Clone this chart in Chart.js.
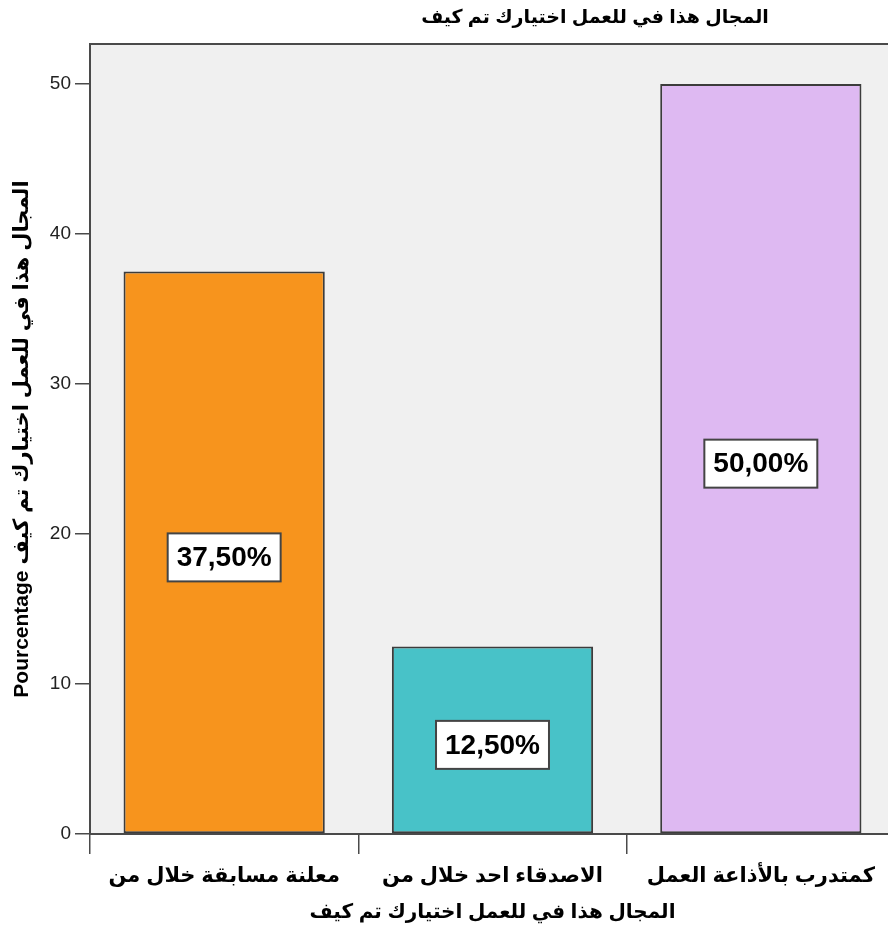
<!DOCTYPE html>
<html>
<head>
<meta charset="utf-8">
<script src="https://cdn.jsdelivr.net/npm/chart.js@4/dist/chart.umd.min.js"></script>
<style>
  html, body { margin: 0; padding: 0; background: #ffffff; overflow: hidden; }
  #wrap { width: 896px; height: 936px; }
</style>
</head>
<body>
<div id="wrap"><canvas id="chart" width="896" height="936"></canvas></div>
<script>
// Chart data (Arabic kept in the word order the picture shows)
const categories = ['معلنة مسابقة خلال من', 'الاصدقاء احد خلال من', 'كمتدرب بالأذاعة العمل'];
const percentages = [37.5, 12.5, 50.0];
const barLabels = ['37,50%', '12,50%', '50,00%'];
const barColors = ['#F7941D', '#48C2C8', '#DEB9F2'];
const yTicks = [0, 10, 20, 30, 40, 50];

const chartTitle = 'المجال هذا في للعمل اختيارك تم كيف';
const xTitle = 'المجال هذا في للعمل اختيارك تم كيف';
const yTitle = 'Pourcentage المجال هذا في للعمل اختيارك تم كيف';

const FONT = "Arial, 'Liberation Sans', 'DejaVu Sans', sans-serif";

// plot background, top frame line and title
const framePlugin = {
    id: 'frame',
    beforeDraw(chart) {
        const { ctx, chartArea: a } = chart;
        ctx.save();
        ctx.fillStyle = '#ffffff';
        ctx.fillRect(0, 0, chart.width, chart.height);
        ctx.fillStyle = '#F0F0F0';
        ctx.fillRect(a.left, a.top, a.right - a.left, a.bottom - a.top);
        ctx.restore();
    },
    afterDraw(chart) {
        const { ctx, chartArea: a } = chart;
        ctx.save();
        ctx.strokeStyle = '#4a4a4a';
        ctx.lineWidth = 2;
        ctx.beginPath();
        ctx.moveTo(a.left, a.top);
        ctx.lineTo(a.right, a.top);
        ctx.stroke();
        ctx.fillStyle = '#000000';
        ctx.font = 'bold 19px ' + FONT;
        ctx.textAlign = 'center';
        ctx.textBaseline = 'middle';
        ctx.fillText(chartTitle, 595, 18);
        ctx.restore();
    }
};

// white boxed value labels in the middle of each bar
const boxLabelPlugin = {
    id: 'boxLabels',
    afterDatasetsDraw(chart) {
        const { ctx } = chart;
        const meta = chart.getDatasetMeta(0);
        ctx.save();
        ctx.font = 'bold 28px ' + FONT;
        ctx.textAlign = 'center';
        ctx.textBaseline = 'middle';
        meta.data.forEach((bar, i) => {
            const text = barLabels[i];
            const cx = bar.x;
            const cy = (bar.y + bar.base) / 2 + 5;
            const w = ctx.measureText(text).width + 18;
            const h = 48;
            ctx.fillStyle = '#ffffff';
            ctx.fillRect(cx - w / 2, cy - h / 2, w, h);
            ctx.strokeStyle = '#444444';
            ctx.lineWidth = 2;
            ctx.strokeRect(cx - w / 2, cy - h / 2, w, h);
            ctx.fillStyle = '#000000';
            ctx.fillText(text, cx, cy + 1);
        });
        ctx.restore();
    }
};

new Chart(document.getElementById('chart'), {
    type: 'bar',
    data: {
        labels: categories,
        datasets: [{
            data: percentages,
            backgroundColor: barColors,
            borderColor: '#3c3c3c',
            borderWidth: 2,
            borderSkipped: false,
            barPercentage: 0.75,
            categoryPercentage: 1.0
        }]
    },
    options: {
        responsive: false,
        animation: false,
        devicePixelRatio: 1,
        layout: { padding: { top: 44, right: 1, left: 0, bottom: 0 } },
        plugins: {
            legend: { display: false },
            tooltip: { enabled: false }
        },
        scales: {
            x: {
                grid: { drawOnChartArea: false, tickLength: 20, color: '#4a4a4a', lineWidth: 1.5 },
                border: { color: '#4a4a4a', width: 2 },
                ticks: {
                    color: '#000000',
                    font: { family: FONT, size: 21, weight: 'bold' },
                    padding: 10,
                    maxRotation: 0
                },
                title: {
                    display: true,
                    text: xTitle,
                    color: '#000000',
                    font: { family: FONT, size: 20, weight: 'bold' },
                    padding: { top: 2, bottom: 12 }
                },
                afterFit(scale) { scale.height = 102; }
            },
            y: {
                min: 0,
                max: 52.67,
                afterBuildTicks(scale) { scale.ticks = yTicks.map(v => ({ value: v })); },
                grid: { drawOnChartArea: false, tickLength: 15, color: '#4a4a4a', lineWidth: 1.5 },
                border: { color: '#4a4a4a', width: 2 },
                ticks: {
                    color: '#222222',
                    font: { family: FONT, size: 19 },
                    padding: 4
                },
                title: {
                    display: true,
                    text: yTitle,
                    color: '#000000',
                    font: { family: FONT, size: 21, weight: 'bold' },
                    padding: { top: 10, bottom: 0 }
                },
                afterFit(scale) { scale.width = 90; }
            }
        }
    },
    plugins: [framePlugin, boxLabelPlugin]
});
</script>
</body>
</html>
